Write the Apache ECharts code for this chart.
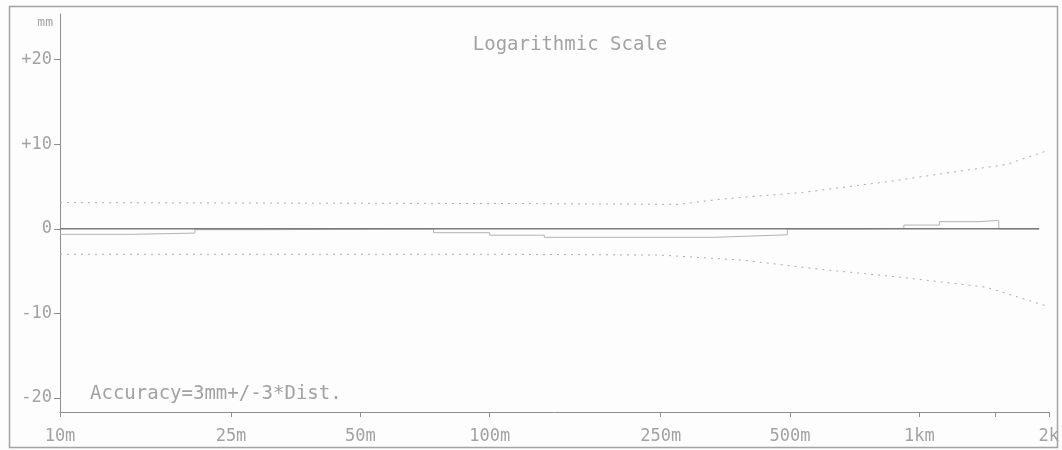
<!DOCTYPE html>
<html><head><meta charset="utf-8">
<script src="https://cdn.jsdelivr.net/npm/echarts@6/dist/echarts.min.js"></script>
<style>html,body{margin:0;padding:0;background:#fff}#c{width:1062px;height:450px}</style>
</head><body><div id="c"></div>
<script>
// ---- data ----
const xTickValues = [10, 25, 50, 100, 250, 500, 1000, 1500, 2000];
const xLabelValues = [10, 25, 50, 100, 250, 500, 1000, 2000];
const xLabelTexts = ['10m', '25m', '50m', '100m', '250m', '500m', '1km', '2k'];
const yTickValues = [-20, -10, 0, 10, 20];
const yLabelTexts = ['-20', '-10', '0', '+10', '+20'];

const upperDist = [10, 100, 276, 343, 534, 850, 1194, 1590, 2000];
const upperMm   = [3.1, 3.0, 2.9, 3.5, 4.3, 5.6, 6.7, 7.6, 9.3];
const lowerDist = [10, 100, 250, 387, 593, 897, 1430, 2000];
const lowerMm   = [-3.0, -3.0, -3.1, -3.7, -4.8, -5.7, -6.9, -9.2];
const zeroDist  = [10, 1900];
const zeroMm    = [0, 0];
const measDist  = [10, 14.6, 20.6, 29, 74, 100, 134, 333, 407, 493, 744, 920, 1113, 1376, 1530, 1900];
const measMm    = [-0.65, -0.5, -0.1, 0, -0.45, -0.75, -1.0, -0.85, -0.7, 0, 0.05, 0.45, 0.85, 1.0, 0, 0];

const titleText = 'Logarithmic Scale';
const noteText = 'Accuracy=3mm+/-3*Dist.';
const unitText = 'mm';

// ---- chart ----
const FONT = 'DejaVu Sans Mono';
const TXT = '#a2a2a2';
const pair = (xs, ys) => xs.map((x, i) => [x, ys[i]]);
const chart = echarts.init(document.getElementById('c'));
chart.setOption({
  backgroundColor: '#fdfdfd',
  animation: false,
  title: {
    text: titleText, left: 565, top: 31, textAlign: 'center',
    textStyle: {fontFamily: FONT, fontSize: 19, fontWeight: 'normal', color: TXT}
  },
  grid: {left: 60, right: 12, top: 14, bottom: 38},
  xAxis: {
    type: 'log', logBase: 10, min: 10, max: 2000,
    axisLine: {show: true, onZero: false, lineStyle: {color: '#8e8e8e', width: 1}},
    axisTick: {show: true, length: 5, customValues: xTickValues, lineStyle: {color: '#8e8e8e'}},
    axisLabel: {
      customValues: xLabelValues, margin: 16, fontFamily: FONT, fontSize: 17, color: TXT,
      formatter: v => { const i = xLabelValues.findIndex(d => Math.abs(d - v) < 1e-6); return i >= 0 ? xLabelTexts[i] : ''; }
    },
    splitLine: {show: false}, minorTick: {show: false}
  },
  yAxis: {
    type: 'value', min: -21.65, max: 25.4,
    axisLine: {show: true, onZero: false, lineStyle: {color: '#8e8e8e', width: 1}},
    axisTick: {show: true, length: 6, customValues: yTickValues, lineStyle: {color: '#8e8e8e'}},
    axisLabel: {
      customValues: yTickValues, margin: 8, fontFamily: FONT, fontSize: 17, color: TXT,
      formatter: v => { const i = yTickValues.findIndex(d => Math.abs(d - v) < 1e-6); return i >= 0 ? yLabelTexts[i] : ''; }
    },
    splitLine: {show: false}
  },
  series: [
    {type: 'line', data: pair(upperDist, upperMm), symbol: 'none', smooth: false,
     lineStyle: {color: '#ababab', width: 1, type: [2, 5]}},
    {type: 'line', data: pair(lowerDist, lowerMm), symbol: 'none',
     lineStyle: {color: '#ababab', width: 1, type: [2, 5]}},
    {type: 'line', data: pair(measDist, measMm), symbol: 'none', step: 'end',
     lineStyle: {color: '#b4b4b4', width: 1}},
    {type: 'line', data: pair(zeroDist, zeroMm), symbol: 'none',
     lineStyle: {color: '#7a7a7a', width: 1.5}}
  ],
  graphic: [
    {type: 'rect', shape: {x: 9.5, y: 6.5, width: 1048, height: 441}, silent: true,
     style: {fill: null, stroke: '#a4a4a4', lineWidth: 1.5}},
    {type: 'text', x: 53, y: 16, silent: true,
     style: {text: unitText, fontFamily: FONT, fontSize: 13, fill: TXT, align: 'right'}},
    {type: 'text', x: 90, y: 385, silent: true,
     style: {text: noteText, fontFamily: FONT, fontSize: 19, fill: TXT}}
  ]
});
</script></body></html>
